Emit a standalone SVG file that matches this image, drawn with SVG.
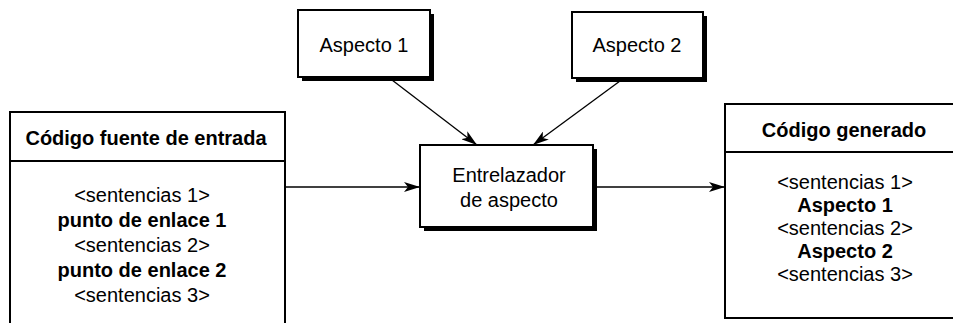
<svg xmlns="http://www.w3.org/2000/svg" width="953" height="323" viewBox="0 0 953 323">
<defs>
<style>
.box{fill:#fff;stroke:#000;stroke-width:2}
.shadow{fill:#000}
.t{font-family:"Liberation Sans",Arial,sans-serif;font-size:20px;fill:#000;text-anchor:middle}
.b{font-weight:bold}
.c{stroke:#000;stroke-width:1.3;fill:none}
</style>
<marker id="ah" viewBox="0 0 16 10" refX="16" refY="5" markerWidth="16" markerHeight="10" markerUnits="userSpaceOnUse" orient="auto">
<path d="M0,0 L16,5 L0,10 L4,5 Z" fill="#000"/>
</marker>
</defs>
<rect width="953" height="323" fill="#fff"/>
<g id="aspecto1">
<rect class="shadow" x="302" y="14" width="132" height="67"/>
<rect class="box" x="298" y="10" width="132" height="67"/>
<text class="t" x="364" y="52">Aspecto 1</text>
</g>
<g id="aspecto2">
<rect class="shadow" x="576" y="16" width="131" height="66"/>
<rect class="box" x="572" y="12" width="131" height="66"/>
<text class="t" x="637" y="52">Aspecto 2</text>
</g>
<g id="entrelazador">
<rect class="shadow" x="424" y="149" width="173" height="82"/>
<rect class="box" x="420" y="145" width="173" height="82"/>
<text class="t" x="509" y="182">Entrelazador</text>
<text class="t" x="509" y="207">de aspecto</text>
</g>
<g id="entrada">
<path class="box" d="M10,330 L10,112 L285,112 L285,330"/>
<line class="c" x1="10" y1="161" x2="285" y2="161" style="stroke-width:2"/>
<text class="t b" x="146" y="145">Código fuente de entrada</text>
<text class="t" x="142" y="202">&lt;sentencias 1&gt;</text>
<text class="t b" x="142" y="227">punto de enlace 1</text>
<text class="t" x="142" y="252">&lt;sentencias 2&gt;</text>
<text class="t b" x="142" y="277">punto de enlace 2</text>
<text class="t" x="142" y="302">&lt;sentencias 3&gt;</text>
</g>
<g id="generado">
<rect class="box" x="725" y="104" width="240" height="214"/>
<line class="c" x1="725" y1="152" x2="960" y2="152" style="stroke-width:2"/>
<text class="t b" x="844" y="137">Código generado</text>
<text class="t" x="845" y="189">&lt;sentencias 1&gt;</text>
<text class="t b" x="845" y="212">Aspecto 1</text>
<text class="t" x="845" y="235">&lt;sentencias 2&gt;</text>
<text class="t b" x="845" y="258">Aspecto 2</text>
<text class="t" x="845" y="281">&lt;sentencias 3&gt;</text>
</g>
<g id="connectors">
<line class="c" x1="392" y1="80" x2="477" y2="145" marker-end="url(#ah)"/>
<line class="c" x1="620" y1="81" x2="533" y2="145" marker-end="url(#ah)"/>
<line class="c" x1="285" y1="187" x2="420" y2="187" marker-end="url(#ah)"/>
<line class="c" x1="597" y1="187" x2="725" y2="187" marker-end="url(#ah)"/>
</g>
</svg>
